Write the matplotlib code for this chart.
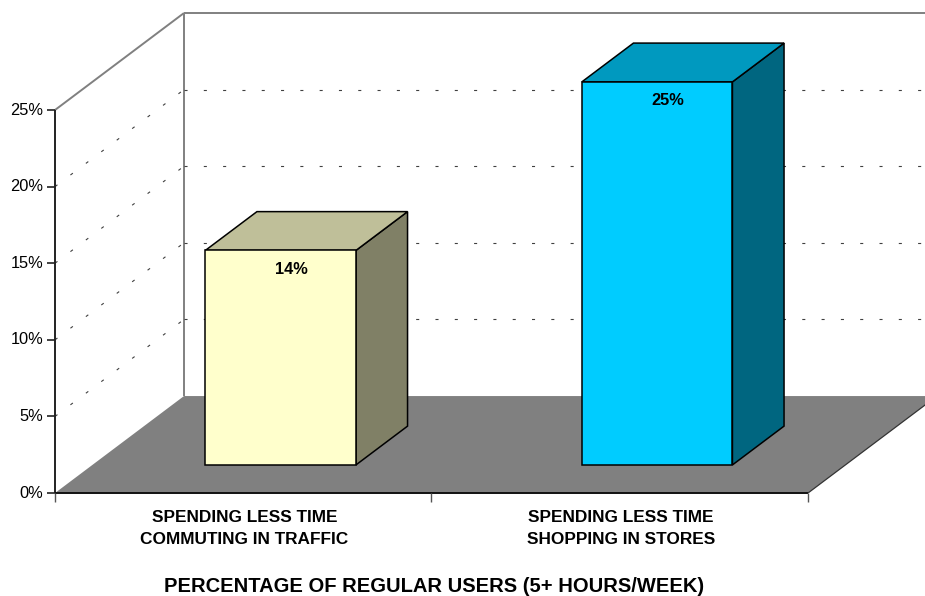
import matplotlib
matplotlib.use("Agg")
import matplotlib.pyplot as plt
from matplotlib.patches import Polygon
from matplotlib.markers import TICKLEFT, TICKDOWN
from matplotlib.colors import to_rgb

# --- data -------------------------------------------------------------
categories = ["SPENDING LESS TIME\nCOMMUTING IN TRAFFIC",
              "SPENDING LESS TIME\nSHOPPING IN STORES"]
values = [14, 25]
value_labels = ["14%", "25%"]
y_ticks = [0, 5, 10, 15, 20, 25]
y_tick_labels = ["0%", "5%", "10%", "15%", "20%", "25%"]
x_title = "PERCENTAGE OF REGULAR USERS (5+ HOURS/WEEK)"
bar_colors = ["#FFFFCC", "#00CCFF"]

# --- style ------------------------------------------------------------
plt.rcParams["font.family"] = ["Liberation Sans", "DejaVu Sans"]
plt.rcParams["lines.scale_dashes"] = False

FLOOR = "#808080"
WALL_EDGE = "#808080"
GRID = "#404040"

# oblique projection of the 3D box: depth 0 = front plane, 1 = back wall
DEPTH_DX = 0.3426   # horizontal shift per unit depth (category units)
DEPTH_DY = 6.33     # vertical shift per unit depth (percent units)
BAR_WIDTH = 0.40
BAR_D0, BAR_D1 = 0.29, 0.69


def proj(x, y, d=0.0):
    return (x + d * DEPTH_DX, y + d * DEPTH_DY)


def shade(color, f):
    r, g, b = to_rgb(color)
    return (r * f, g * f, b * f)


fig = plt.figure(figsize=(9.25, 5.96), dpi=100)
ax = fig.add_axes([0, 0, 1, 1])
ax.set_axis_off()
ax.set_xlim(-0.1461, 2.3108)
ax.set_ylim(-6.72, 32.18)

n = len(categories)
ymax = y_ticks[-1]

# floor
ax.add_patch(Polygon([proj(0, 0, 0), proj(n, 0, 0), proj(n, 0, 1), proj(0, 0, 1)],
                     closed=True, facecolor=FLOOR, edgecolor="none", zorder=1))


def seg(p, q, **kw):
    ax.plot([p[0], q[0]], [p[1], q[1]], solid_capstyle="butt", **kw)


# walls outline
seg(proj(0, 0, 1), proj(0, ymax, 1), color=WALL_EDGE, lw=1.4, zorder=2)
seg(proj(0, ymax, 1), proj(n, ymax, 1), color=WALL_EDGE, lw=1.4, zorder=2)
seg(proj(0, ymax, 0), proj(0, ymax, 1), color=WALL_EDGE, lw=1.4, zorder=2)

# dotted gridlines on the side and back walls
for v in y_ticks[1:-1]:
    seg(proj(0, v, 1), proj(n, v, 1), color=GRID, lw=0.8,
        dashes=(2.2, 11.7), zorder=2)
    seg(proj(0, v, 0), proj(0, v, 1), color=GRID, lw=0.8,
        dashes=(2.2, 11.7), zorder=2)

# front axis lines and floor edges
seg(proj(0, 0, 0), proj(0, ymax, 0), color="#222222", lw=1.4, zorder=3)
seg(proj(0, 0, 0), proj(n, 0, 0), color="#111111", lw=1.4, zorder=3)
seg(proj(n, 0, 0), proj(n, 0, 1), color="#333333", lw=0.9, zorder=3)

# value axis ticks and labels
for v, lab in zip(y_ticks, y_tick_labels):
    ax.plot(*proj(0, v, 0), marker=TICKLEFT, markersize=5.8,
            markeredgewidth=1.2, color="#222222", zorder=3)
    ax.annotate(lab, proj(0, v, 0), xytext=(-12, 0), textcoords="offset pixels",
                ha="right", va="center", fontsize=11.8, color="black")

# category ticks
for i in range(n + 1):
    ax.plot(*proj(i, 0, 0), marker=TICKDOWN, markersize=6.5,
            markeredgewidth=1.0, color="#555555", zorder=3)

# bars
for i, (v, c) in enumerate(zip(values, bar_colors)):
    xl = i + 0.5 - BAR_WIDTH / 2
    xr = i + 0.5 + BAR_WIDTH / 2
    front = [proj(xl, 0, BAR_D0), proj(xr, 0, BAR_D0),
             proj(xr, v, BAR_D0), proj(xl, v, BAR_D0)]
    top = [proj(xl, v, BAR_D0), proj(xr, v, BAR_D0),
           proj(xr, v, BAR_D1), proj(xl, v, BAR_D1)]
    side = [proj(xr, 0, BAR_D0), proj(xr, 0, BAR_D1),
            proj(xr, v, BAR_D1), proj(xr, v, BAR_D0)]
    for pts, col in ((side, shade(c, 0.5)), (top, shade(c, 0.75)), (front, c)):
        ax.add_patch(Polygon(pts, closed=True, facecolor=col,
                             edgecolor="black", lw=1.1, joinstyle="miter",
                             zorder=4))
    ax.annotate(value_labels[i], proj(i + 0.5, v, BAR_D0), xytext=(11, -19),
                textcoords="offset pixels", ha="center", va="center",
                fontsize=11.8, fontweight="bold", zorder=5)

# category labels
for i, lab in enumerate(categories):
    ax.annotate(lab, proj(i + 0.5, 0, 0), xytext=(1, -17),
                textcoords="offset pixels", ha="center", va="top",
                fontsize=12.4, fontweight="bold", linespacing=1.6)

# axis title
ax.annotate(x_title, proj(n / 2, 0, 0), xytext=(3, -93),
            textcoords="offset pixels", ha="center", va="center",
            fontsize=14.5, fontweight="bold")

fig.savefig("out.png", dpi=100)
